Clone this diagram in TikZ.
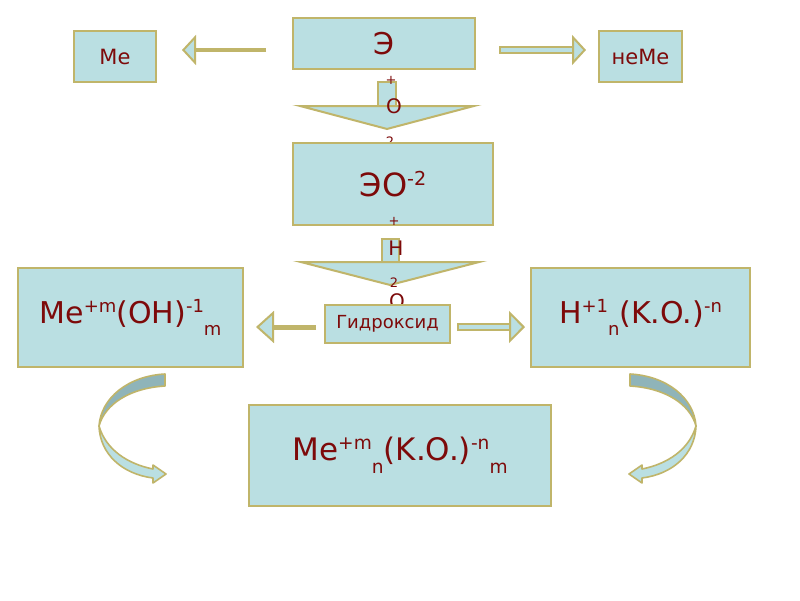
\documentclass[tikz,border=0pt]{standalone}
\usepackage{fontspec}
\setmainfont{DejaVu Sans}
\usetikzlibrary{arrows.meta,backgrounds}
\definecolor{BoxFill}{HTML}{BADFE2}
\definecolor{BoxLine}{HTML}{C0B56A}
\definecolor{InkRed}{HTML}{7D0A0A}
\definecolor{RibbonDark}{HTML}{8FB4B9}
\newcommand\hi[1]{\raisebox{.36em}{\scalebox{.6}{#1}}}
\newcommand\lo[1]{\raisebox{-.42em}{\scalebox{.6}{#1}}}

\begin{document}
\begin{tikzpicture}[x=1pt, y=-1pt,
    box/.style={draw=BoxLine, fill=BoxFill, line width=2pt, text=InkRed, inner sep=0pt},
    lbl/.style={text=InkRed, inner sep=0pt},
    thinarr/.style args={#1/#2/#3}{draw=BoxLine, line width=#1,
      -{Triangle[fill=BoxFill, line width=2pt, length=#2, width=#3]}},
    hollowarr/.style args={#1/#2/#3/#4}{draw=BoxLine, line width=2pt,
      double=BoxFill, double distance=#1,
      {Bar[width=#2, line width=2pt]}-{Triangle[fill=BoxFill, line width=2pt, length=#3, width=#4]}},
    ribbon/.style={draw=BoxLine, line width=1.6pt, line join=round}]
  \useasboundingbox (0,0) rectangle (800,600);

  % top row
  \node[box, minimum width=82pt, minimum height=51pt, font=\fontsize{21}{21}\selectfont] (me) at (115,56.5) {Me};
  \node[box, minimum width=182pt, minimum height=51pt, font=\fontsize{30}{30}\selectfont] (e) at (384,43.5) {Э};
  \node[box, minimum width=83pt, minimum height=51pt, font=\fontsize{21}{21}\selectfont] (neme) at (640.5,56.5) {неМе};

  % oxide and hydroxide
  \node[box, minimum width=200pt, minimum height=82pt, font=\fontsize{32}{32}\selectfont] (eo) at (393,184) {ЭО\hi{-2}};
  \node[lbl, font=\fontsize{13}{13}\selectfont] (plusB) at (394,221) {+};
  \node[box, minimum width=125pt, minimum height=38pt, font=\fontsize{18}{18}\selectfont] (g) at (387.5,324) {Гидроксид};
  \node[box, minimum width=225pt, minimum height=99pt, font=\fontsize{30}{30}\selectfont] (meoh) at (130.5,317.5) {Me\hi{+m}(OH)\hi{-1}\lo{m}};
  \node[box, minimum width=219pt, minimum height=99pt, font=\fontsize{30}{30}\selectfont] (hko) at (640.5,317.5) {H\hi{+1}\lo{n}(K.O.)\hi{-n}};
  \node[box, minimum width=302pt, minimum height=101pt, font=\fontsize{31}{31}\selectfont] (salt) at (400,455.5) {Me\hi{+m}\lo{n}(K.O.)\hi{-n}\lo{m}};

  \coordinate (eW) at ([yshift=-6.5pt]e.west);
  \coordinate (eE) at ([yshift=-6.5pt]e.east);
  \coordinate (gW) at ([yshift=-3pt]g.west);
  \coordinate (gE) at ([yshift=-3pt]g.east);
  \coordinate (eS) at ([xshift=3pt]e.south);
  \coordinate (eoS) at ([xshift=-3pt]eo.south);

  \begin{scope}[on background layer]
    \fill[white] (0,0) rectangle (800,600);
    \draw[thinarr=4pt/14pt/30pt, shorten <=26pt, shorten >=25pt] (eW) -- (eW -| me.east);
    \draw[hollowarr=3.5pt/7.5pt/14pt/30pt, shorten <=23pt, shorten >=12pt] (eE) -- (eE -| neme.west);
    \draw[thinarr=5pt/18pt/32pt, shorten <=8pt, shorten >=12pt] (gW) -- (gW -| meoh.east);
    \draw[hollowarr=4pt/8pt/16pt/32pt, shorten <=6pt, shorten >=5pt] (gE) -- (gE -| hko.west);
    \draw[hollowarr=16pt/20pt/25pt/189pt, shorten <=11pt, shorten >=12pt] (eS) -- (eS |- eo.north);
    \draw[hollowarr=15pt/19pt/25pt/194pt, shorten <=12pt, shorten >=18pt] (eoS) -- (eoS |- g.north);
    % labels on the down arrows
    \node[lbl, font=\fontsize{13}{13}\selectfont] (plusA) at (391,80) {+};
    \node[lbl, font=\fontsize{20}{20}\selectfont] (oxA) at (394,106) {O};
    \node[lbl, font=\fontsize{13}{13}\selectfont] (twoA) at (390,142) {2};
    \node[lbl, font=\fontsize{20}{20}\selectfont] (hB) at (396,248) {H};
    \node[lbl, font=\fontsize{13}{13}\selectfont] (twoB) at (394,283) {2};
    \node[lbl, font=\fontsize{20}{20}\selectfont] (oxB) at (397,301) {O};
  \end{scope}

  % curved arrows
  \foreach \sh/\sc in {0/1, 795/-1} {
    \begin{scope}[xshift=\sh pt, xscale=\sc]
      \filldraw[ribbon, fill=RibbonDark] (165,374) .. controls (128,376) and (101,398) .. (99,426)
        .. controls (105,404) and (130,388) .. (165,386) -- cycle;
      \filldraw[ribbon, fill=BoxFill] (99,426) .. controls (100,454) and (122,474) .. (153,478)
        -- (153,483) -- (166,474) -- (153,465) -- (153,469)
        .. controls (128,464) and (106,450) .. (99,426) -- cycle;
    \end{scope}
  }
\end{tikzpicture}
\end{document}
